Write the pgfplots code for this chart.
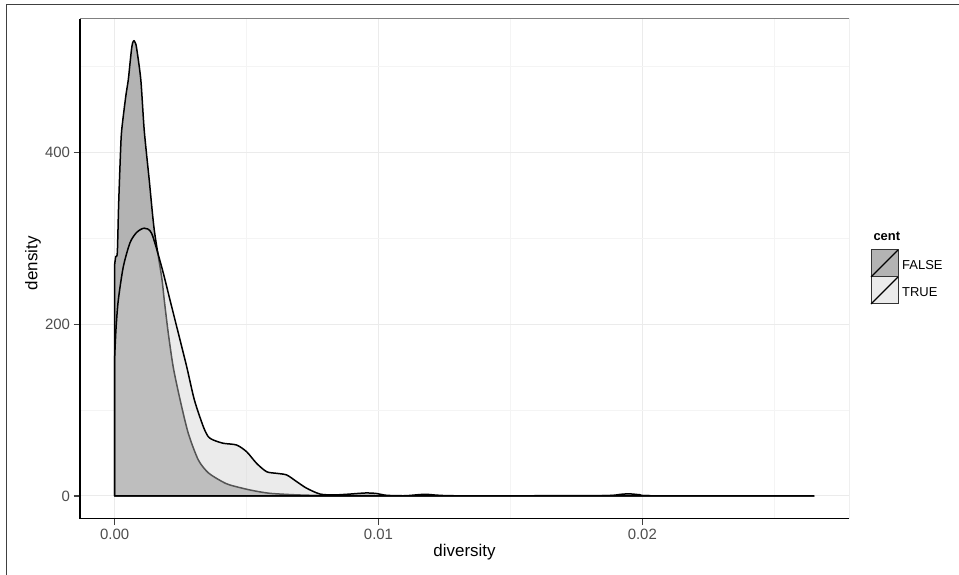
\documentclass[border=0pt]{standalone}
\usepackage{pgfplots}
\pgfplotsset{compat=1.18}
\usepackage{fontspec}
\setmainfont{Liberation Sans}
\definecolor{falsefill}{HTML}{B3B3B3}
\definecolor{truefill}{HTML}{CECECE}
\definecolor{truekey}{HTML}{EBEBEB}
\definecolor{majgrid}{HTML}{EBEBEB}
\definecolor{mingrid}{HTML}{F4F4F4}
\definecolor{ticktext}{HTML}{4D4D4D}
\begin{document}
\begin{tikzpicture}
\path[use as bounding box] (0bp,0bp) rectangle (959bp,575bp);
\draw[color=black!75, line width=1bp] (6bp,0bp) -- (6bp,570bp) -- (959bp,570bp);
\begin{axis}[
  at={(80bp,56.3bp)}, anchor=south west,
  scale only axis, width=769bp, height=499.7bp,
  xmin=-0.001315, xmax=0.027835, ymin=-26.45, ymax=555.75,
  axis x line*=bottom, axis y line*=left,
  axis line style={black, line width=1.4bp},
  xtick={0,0.01,0.02}, xticklabels={0.00,0.01,0.02},
  ytick={0,200,400}, yticklabels={0,200,400},
  minor xtick={0.005,0.015,0.025}, minor ytick={100,300,500},
  scaled x ticks=false,
  grid=both,
  major grid style={majgrid, line width=1bp},
  minor grid style={mingrid, line width=0.8bp},
  tick align=outside, major tick length=6.5bp, minor tick length=0pt,
  tick style={black!75, line width=1.1bp},
  ticklabel style={font=\fontsize{15}{18}\selectfont, text=ticktext},
  xlabel={diversity}, ylabel={density},
  label style={font=\fontsize{17}{20}\selectfont},
  xlabel style={at={(axis description cs:0.5,-0.076)}, anchor=base},
  ylabel style={at={(axis description cs:-0.0555,0.511)}, anchor=base},
]
\draw[color=black!50, line width=1bp] (rel axis cs:0,1) -- (rel axis cs:1,1) -- (rel axis cs:1,0);
% FALSE
\addplot[smooth, tension=0.45, fill=falsefill, draw=black, line width=1.5bp, line join=round] coordinates {
(0,270) (0.00004,279) (0.0001,284) (0.00015,340) (0.00022,400) (0.000265,426)
(0.000417,465) (0.000516,485) (0.00058,504) (0.00064,521) (0.00068,528) (0.00073,530.5)
(0.00078,528) (0.00083,522) (0.00099,485) (0.00112,426) (0.00131,368) (0.0015,310)
(0.00178,255) (0.00188,228) (0.00203,190) (0.00222,150) (0.00248,112) (0.00279,73)
(0.00317,42) (0.00355,27) (0.00406,17) (0.00437,12.8) (0.00513,7) (0.00589,3.1)
(0.007,1.2) (0.008,0.6) (0.0095,0.8) (0.0105,0.2) (0.013,0.1) (0.0195,0.5) (0.021,0.05) (0.0265,0)
} \closedcycle;
% TRUE
\addplot[smooth, tension=0.45, fill=truefill, fill opacity=0.41, draw=black, draw opacity=1, line width=1.5bp, line join=round] coordinates {
(0,162) (0.00005,195) (0.000136,228) (0.000326,267) (0.00058,295) (0.00083,307)
(0.00112,312) (0.0014,306) (0.00178,267) (0.0021,228) (0.00241,190) (0.00273,150.6)
(0.00302,112) (0.00336,80.7) (0.00355,69) (0.00374,65.2) (0.00412,61.4) (0.00462,59.4)
(0.005,51.6) (0.00538,38) (0.00576,28.3) (0.00614,26.4) (0.00652,24.5) (0.0069,16.7)
(0.00728,9) (0.00778,2.3) (0.00829,1.2) (0.0088,2) (0.0095,3.5) (0.0099,3) (0.0103,0.8)
(0.011,0.3) (0.0115,1.5) (0.0118,2) (0.0122,1) (0.0128,0.3) (0.015,0.2) (0.0185,0.3)
(0.0192,2) (0.0195,2.5) (0.0199,1.5) (0.0205,0.2) (0.0265,0)
} \closedcycle;
\end{axis}
% legend
\node[anchor=base west, font=\bfseries\fontsize{13}{15}\selectfont] at (870bp,334bp) {cent};
\fill[falsefill] (871bp,298bp) rectangle (898bp,325bp);
\fill[truekey] (871bp,271bp) rectangle (898bp,298bp);
\draw[black!80, line width=1bp] (871bp,298bp) rectangle (898bp,325bp);
\draw[black!80, line width=1bp] (871bp,271bp) rectangle (898bp,298bp);
\draw[black, line width=1.2bp] (871bp,298bp) -- (898bp,325bp);
\draw[black, line width=1.2bp] (871bp,271bp) -- (898bp,298bp);
\node[anchor=base west, inner sep=0pt, font=\fontsize{13}{15}\selectfont] at (902bp,305.7bp) {FALSE};
\node[anchor=base west, inner sep=0pt, font=\fontsize{13}{15}\selectfont] at (902bp,278.3bp) {TRUE};
\end{tikzpicture}
\end{document}
